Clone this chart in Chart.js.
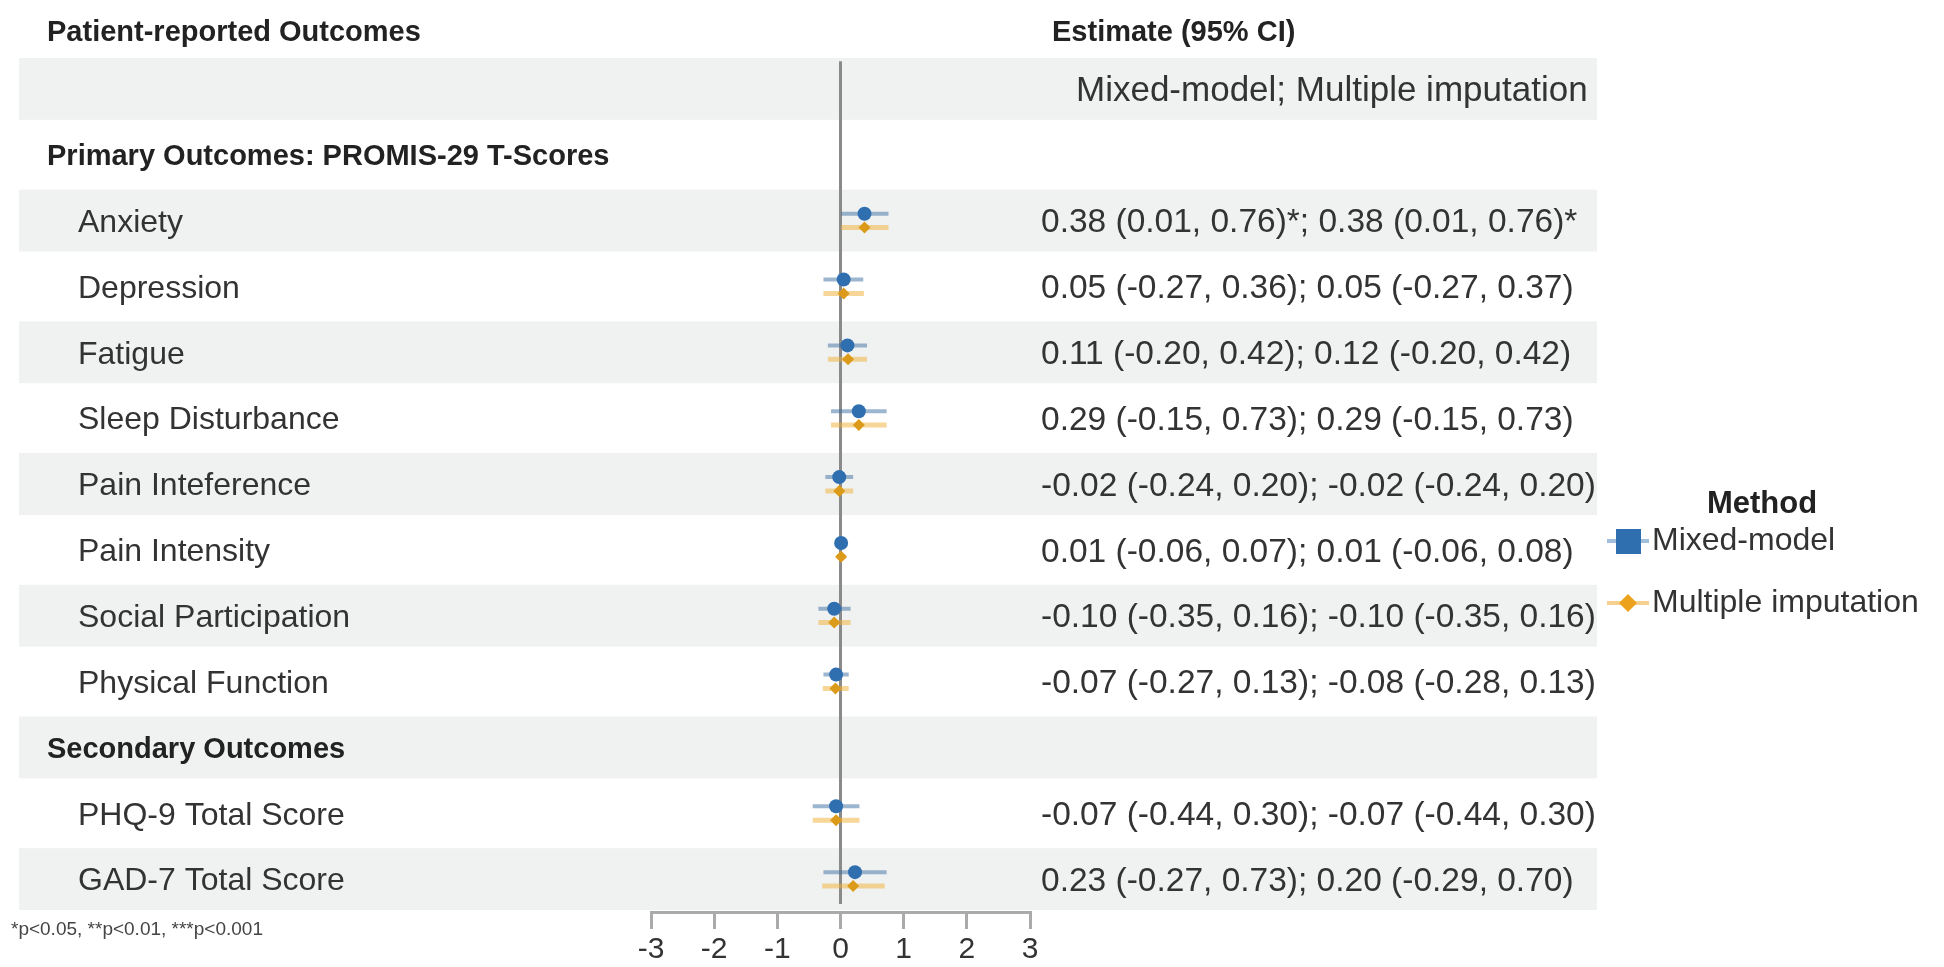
<!DOCTYPE html>
<html>
<head>
<meta charset="utf-8">
<title>Patient-reported Outcomes</title>
<script src="https://cdn.jsdelivr.net/npm/chart.js@4.4.1/dist/chart.umd.min.js"></script>
<style>
  html, body { margin: 0; padding: 0; background: #fff; }
  #wrap { width: 1944px; height: 967px; position: relative; }
</style>
</head>
<body>
<div id="wrap"><canvas id="forest"></canvas></div>
<script>
// outcomes, in display order
const primaryOutcomes = ['Anxiety', 'Depression', 'Fatigue', 'Sleep Disturbance', 'Pain Inteference',
  'Pain Intensity', 'Social Participation', 'Physical Function'];
const secondaryOutcomes = ['PHQ-9 Total Score', 'GAD-7 Total Score'];

// Mixed-model estimates
const mixedEst  = [0.38, 0.05, 0.11, 0.29, -0.02, 0.01, -0.10, -0.07, -0.07, 0.23];
const mixedLow  = [0.01, -0.27, -0.20, -0.15, -0.24, -0.06, -0.35, -0.27, -0.44, -0.27];
const mixedHigh = [0.76, 0.36, 0.42, 0.73, 0.20, 0.07, 0.16, 0.13, 0.30, 0.73];
const mixedSig  = ['*', '', '', '', '', '', '', '', '', ''];

// Multiple imputation estimates
const miEst  = [0.38, 0.05, 0.12, 0.29, -0.02, 0.01, -0.10, -0.08, -0.07, 0.20];
const miLow  = [0.01, -0.27, -0.20, -0.15, -0.24, -0.06, -0.35, -0.28, -0.44, -0.29];
const miHigh = [0.76, 0.37, 0.42, 0.73, 0.20, 0.08, 0.16, 0.13, 0.30, 0.70];
const miSig  = ['*', '', '', '', '', '', '', '', '', ''];

const xTicks = [-3, -2, -1, 0, 1, 2, 3];

const methods = ['Mixed-model', 'Multiple imputation'];
const BLUE = '#2f6fb0';
const ORANGE = '#eda21d';
const FONT = '"Liberation Sans", Arial, Helvetica, sans-serif';

// table rows: subheader, section, outcomes..., section, outcomes...
const rows = [{ kind: 'sub', text: 'Mixed-model; Multiple imputation' },
  { kind: 'section', text: 'Primary Outcomes: PROMIS-29 T-Scores' }];
primaryOutcomes.forEach((o, i) => rows.push({ kind: 'item', text: o, k: i }));
rows.push({ kind: 'section', text: 'Secondary Outcomes' });
secondaryOutcomes.forEach((o, i) => rows.push({ kind: 'item', text: o, k: primaryOutcomes.length + i }));

const rowOf = [];
rows.forEach((r, i) => { if (r.kind === 'item') rowOf[r.k] = i; });

const SHIFT = 0.105; // vertical dodge between the two methods (in rows)

const ciPoints = (lo, hi, dy) => {
  const pts = [];
  rowOf.forEach((r, k) => {
    pts.push({ x: lo[k], y: r + dy }, { x: hi[k], y: r + dy }, { x: null, y: null });
  });
  return pts;
};
const estPoints = (est, dy) => rowOf.map((r, k) => ({ x: est[k], y: r + dy }));

const fmt = (v) => v.toFixed(2);
const estText = (k) =>
  `${fmt(mixedEst[k])} (${fmt(mixedLow[k])}, ${fmt(mixedHigh[k])})${mixedSig[k]}; ` +
  `${fmt(miEst[k])} (${fmt(miLow[k])}, ${fmt(miHigh[k])})${miSig[k]}`;

const tablePlugin = {
  id: 'table',
  beforeDraw(chart) {
    const { ctx } = chart;
    const y = chart.scales.y;
    ctx.save();
    ctx.fillStyle = '#fff';
    ctx.fillRect(0, 0, chart.width, chart.height);
    ctx.fillStyle = '#f0f2f2';
    rows.forEach((r, i) => {
      if (i % 2 !== 0) return;
      const top = y.getPixelForValue(i - 0.47);
      const bot = y.getPixelForValue(i + 0.47);
      ctx.fillRect(19, top, 1597 - 19, bot - top);
    });
    ctx.restore();
  },
  beforeDatasetsDraw(chart) {
    const { ctx } = chart;
    const x = chart.scales.x, y = chart.scales.y;
    ctx.save();
    ctx.strokeStyle = '#8a8a8a';
    ctx.lineWidth = 3;
    ctx.beginPath();
    ctx.moveTo(x.getPixelForValue(0), y.getPixelForValue(-0.42));
    ctx.lineTo(x.getPixelForValue(0), y.getPixelForValue(rows.length - 0.62));
    ctx.stroke();
    ctx.restore();
  },
  afterDraw(chart) {
    const { ctx } = chart;
    const y = chart.scales.y;
    const dy = 2.5;
    ctx.save();
    ctx.textBaseline = 'middle';
    ctx.textAlign = 'left';

    ctx.fillStyle = '#222';
    ctx.font = `bold 29px ${FONT}`;
    ctx.fillText('Patient-reported Outcomes', 47, y.getPixelForValue(-0.88) + dy);
    ctx.fillText('Estimate (95% CI)', 1052, y.getPixelForValue(-0.88) + dy);

    rows.forEach((r, i) => {
      const py = y.getPixelForValue(i) + dy;
      if (r.kind === 'section') {
        ctx.fillStyle = '#222';
        ctx.font = `bold 29px ${FONT}`;
        ctx.fillText(r.text, 47, py);
      } else if (r.kind === 'sub') {
        ctx.fillStyle = '#333';
        ctx.font = `35px ${FONT}`;
        ctx.fillText(r.text, 1076, py);
      } else {
        ctx.fillStyle = '#333';
        ctx.font = `32px ${FONT}`;
        ctx.fillText(r.text, 78, py);
        ctx.font = `33.5px ${FONT}`;
        ctx.fillText(estText(r.k), 1041, py);
      }
    });

    // footnote
    ctx.fillStyle = '#444';
    ctx.font = `19px ${FONT}`;
    ctx.fillText('*p<0.05, **p<0.01, ***p<0.001', 11, 930);

    // legend
    ctx.fillStyle = '#222';
    ctx.font = `bold 31px ${FONT}`;
    ctx.textAlign = 'center';
    ctx.fillText('Method', 1762, 504);
    ctx.textAlign = 'left';
    const keys = [{ y: 541, color: BLUE, line: 'rgba(47,111,176,0.45)', style: 'rect' },
      { y: 603, color: ORANGE, line: 'rgba(237,162,29,0.5)', style: 'rectRot' }];
    keys.forEach((kk, i) => {
      ctx.strokeStyle = kk.line;
      ctx.lineWidth = 4;
      ctx.beginPath();
      ctx.moveTo(1607, kk.y);
      ctx.lineTo(1649, kk.y);
      ctx.stroke();
      ctx.fillStyle = kk.color;
      if (kk.style === 'rect') {
        ctx.fillRect(1616, kk.y - 12, 25, 25);
      } else {
        Chart.helpers.drawPoint(ctx, { pointStyle: 'rectRot', radius: 9, rotation: 0, borderWidth: 0 }, 1628, kk.y);
      }
      ctx.fillStyle = '#333';
      ctx.font = `32px ${FONT}`;
      ctx.fillText(methods[i], 1652, kk.y);
    });
    ctx.restore();
  }
};

new Chart(document.getElementById('forest'), {
  type: 'scatter',
  data: {
    datasets: [
      {
        label: methods[0],
        data: estPoints(mixedEst, -SHIFT),
        pointStyle: 'circle',
        pointRadius: 7,
        backgroundColor: BLUE,
        borderWidth: 0,
        order: 1
      },
      {
        label: methods[1],
        data: estPoints(miEst, SHIFT),
        pointStyle: 'rectRot',
        pointRadius: 6,
        backgroundColor: '#dc9a1a',
        borderWidth: 0,
        order: 2
      },
      {
        label: methods[0] + ' CI',
        data: ciPoints(mixedLow, mixedHigh, -SHIFT),
        showLine: true,
        pointRadius: 0,
        borderColor: 'rgba(60,110,160,0.5)',
        borderWidth: 4,
        order: 3
      },
      {
        label: methods[1] + ' CI',
        data: ciPoints(miLow, miHigh, SHIFT),
        showLine: true,
        pointRadius: 0,
        borderColor: 'rgba(240,175,50,0.5)',
        borderWidth: 5,
        order: 4
      }
    ]
  },
  options: {
    responsive: true,
    maintainAspectRatio: false,
    devicePixelRatio: 1,
    animation: false,
    events: [],
    layout: { padding: { left: 651, right: 914, top: 56, bottom: 0 } },
    plugins: {
      legend: { display: false },
      tooltip: { enabled: false }
    },
    scales: {
      x: {
        type: 'linear',
        min: xTicks[0],
        max: xTicks[xTicks.length - 1],
        afterFit: (s) => { s.height = 55; },
        afterBuildTicks: (s) => { s.ticks = xTicks.map((v) => ({ value: v })); },
        ticks: {
          color: '#333',
          font: { family: FONT, size: 30 },
          padding: 3
        },
        grid: {
          display: true,
          drawOnChartArea: false,
          drawTicks: true,
          tickLength: 17,
          color: '#aaa',
          lineWidth: 3
        },
        border: { display: true, color: '#aaa', width: 3 }
      },
      y: {
        type: 'linear',
        reverse: true,
        min: -0.5,
        max: rows.length - 0.5,
        display: false
      }
    }
  },
  plugins: [tablePlugin]
});
</script>
</body>
</html>
